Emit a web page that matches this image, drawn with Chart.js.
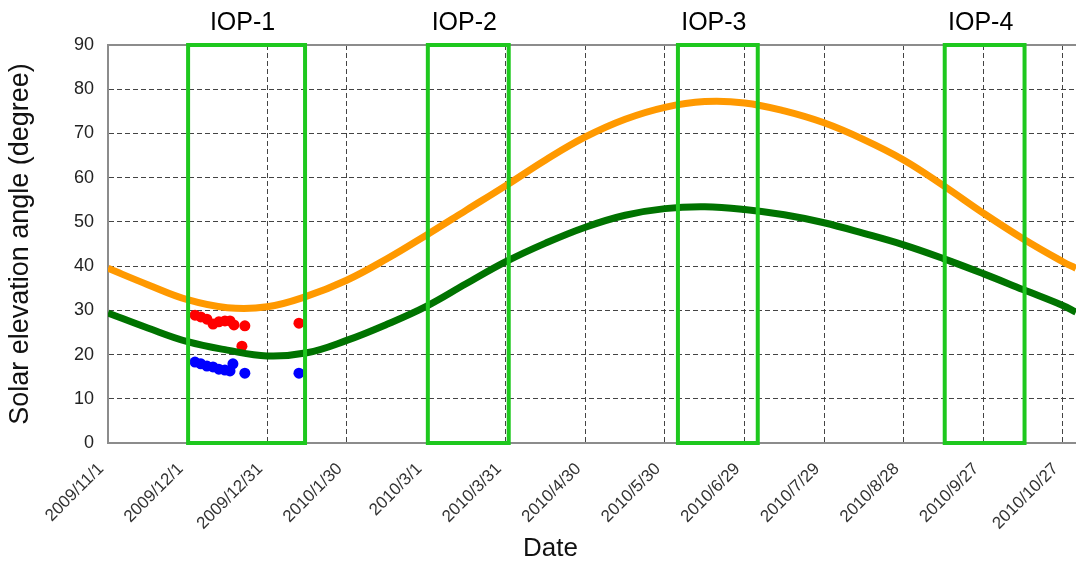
<!DOCTYPE html>
<html>
<head>
  <title>Solar elevation angle</title>
  <script src="https://cdn.jsdelivr.net/npm/chart.js@4.4.1/dist/chart.umd.min.js"></script>
  <style>
    body { margin: 0; background: #fff; }
  </style>
</head>
<body>
  <canvas id="chart" width="1076" height="565"></canvas>
  <script>
    // days since 2009/11/1
    var curveDays = [0, 15, 30, 45, 60, 75, 90, 105, 120, 135, 150, 165, 180, 195, 210, 225, 240, 255, 270, 285, 300, 315, 330, 345, 360, 365];
    var orangeVals = [39.5, 35.8, 32.4, 30.6, 30.8, 33.2, 36.8, 41.6, 47.0, 52.6, 58.2, 64.0, 69.2, 73.2, 75.9, 77.2, 76.9, 75.1, 72.4, 68.6, 64.0, 58.2, 52.0, 46.2, 41.0, 39.5];
    var greenVals = [29.4, 26.0, 22.9, 21.0, 19.7, 20.4, 23.2, 26.8, 30.9, 36.0, 41.0, 45.2, 48.8, 51.5, 53.0, 53.4, 52.8, 51.6, 49.8, 47.4, 44.8, 41.7, 38.3, 34.7, 31.1, 29.6];

    var redDays = [32.8, 35, 37.3, 39.6, 41.8, 44.1, 46, 47.5, 51.6, 50.5, 72];
    var redVals = [28.9, 28.5, 28.0, 26.9, 27.4, 27.6, 27.6, 26.7, 26.5, 21.9, 27.1];
    var blueDays = [32.8, 35, 37.3, 39.6, 41.8, 44.1, 46, 47.1, 51.6, 72];
    var blueVals = [18.3, 17.9, 17.4, 17.2, 16.7, 16.5, 16.3, 17.9, 15.8, 15.8];

    var iopNames = ["IOP-1", "IOP-2", "IOP-3", "IOP-4"];
    var iopStart = [30.2, 120.6, 214.9, 315.5];
    var iopEnd = [74.3, 151.1, 245, 345.6];

    var FONT = '"Liberation Sans", Arial, sans-serif';

    function pts(xs, ys) {
      var out = [];
      for (var i = 0; i < xs.length; i++) out.push({x: xs[i], y: ys[i]});
      return out;
    }

    function dayLabel(v) {
      var d = new Date(2009, 10, 1 + v);
      return d.getFullYear() + "/" + (d.getMonth() + 1) + "/" + d.getDate();
    }

    var iopPlugin = {
      id: 'iop',
      afterDatasetsDraw: function(chart) {
        var ctx = chart.ctx, x = chart.scales.x, y = chart.scales.y, a = chart.chartArea;
        ctx.save();
        // solid top frame line
        ctx.strokeStyle = '#8c8c8c';
        ctx.lineWidth = 2;
        ctx.beginPath();
        ctx.moveTo(a.left, a.top);
        ctx.lineTo(a.right, a.top);
        ctx.stroke();

        ctx.strokeStyle = '#1ec81e';
        ctx.lineWidth = 4;
        ctx.fillStyle = '#000';
        ctx.font = '25px ' + FONT;
        ctx.textAlign = 'center';
        ctx.textBaseline = 'middle';
        for (var i = 0; i < iopNames.length; i++) {
          var x0 = x.getPixelForValue(iopStart[i]);
          var x1 = x.getPixelForValue(iopEnd[i]);
          var y0 = y.getPixelForValue(90);
          var y1 = y.getPixelForValue(0);
          ctx.strokeRect(x0, y0, x1 - x0, y1 - y0);
          ctx.fillText(iopNames[i], (x0 + x1) / 2 - 4, y0 - 22);
        }

        // x axis title
        ctx.font = '26px ' + FONT;
        ctx.fillStyle = '#111';
        ctx.fillText('Date', a.left + (a.right - a.left) * 0.457, chart.height - 16);
        ctx.restore();
      }
    };

    new Chart(document.getElementById("chart"), {
      type: 'line',
      data: {
        datasets: [
          { data: pts(curveDays, orangeVals), borderColor: '#ff9900', borderWidth: 7, pointRadius: 0, tension: 0.4, fill: false },
          { data: pts(curveDays, greenVals), borderColor: '#007300', borderWidth: 7, pointRadius: 0, tension: 0.4, fill: false },
          { data: pts(redDays, redVals), showLine: false, pointRadius: 5.5, pointBackgroundColor: '#ff0000', pointBorderWidth: 0, borderColor: '#ff0000' },
          { data: pts(blueDays, blueVals), showLine: false, pointRadius: 5.5, pointBackgroundColor: '#0000ff', pointBorderWidth: 0, borderColor: '#0000ff' }
        ]
      },
      options: {
        responsive: false,
        animation: false,
        devicePixelRatio: 1,
        layout: { autoPadding: false, padding: { top: 45, left: 0, right: 0, bottom: 0 } },
        plugins: { legend: { display: false }, tooltip: { enabled: false } },
        scales: {
          x: {
            type: 'linear',
            min: 0,
            max: 365,
            afterFit: function(axis) { axis.height = 122; axis.paddingRight = 0; },
            grid: { color: '#444', lineWidth: 1, drawTicks: false },
            border: { color: '#8c8c8c', width: 2, dash: [5, 3] },
            ticks: {
              stepSize: 30,
              includeBounds: false,
              autoSkip: false,
              maxRotation: 45,
              minRotation: 45,
              padding: 16,
              labelOffset: -7,
              color: '#333',
              font: { family: FONT, size: 17 },
              callback: function(v) { return dayLabel(v); }
            }
          },
          y: {
            min: 0,
            max: 90,
            afterFit: function(axis) { axis.width = 108; },
            grid: { color: function(c) { return c.tick && c.tick.value === 90 ? 'rgba(0,0,0,0)' : '#444'; }, lineWidth: 1, drawTicks: false },
            border: { color: '#8c8c8c', width: 2, dash: [5, 3] },
            ticks: {
              stepSize: 10,
              padding: 14,
              color: '#222',
              font: { family: FONT, size: 18 }
            },
            title: { display: true, text: 'Solar elevation angle (degree)', color: '#111', font: { family: FONT, size: 27 }, padding: { top: 4, bottom: 0 } }
          }
        }
      },
      plugins: [iopPlugin]
    });
  </script>
</body>
</html>
